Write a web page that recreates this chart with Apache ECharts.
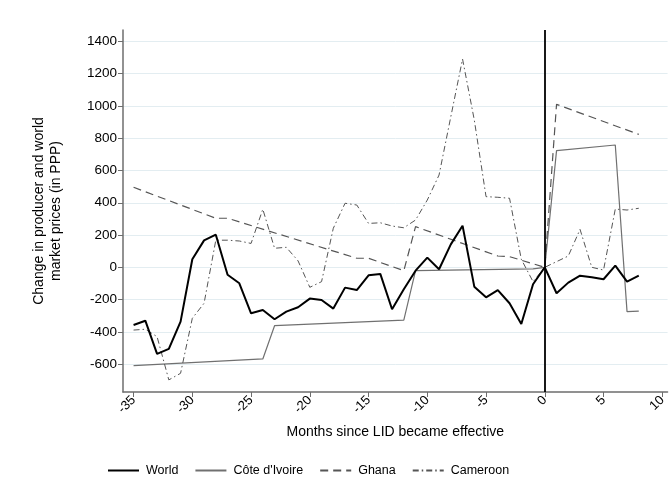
<!DOCTYPE html>
<html>
<head>
<meta charset="utf-8">
<script src="https://cdn.jsdelivr.net/npm/echarts@6/dist/echarts.min.js"></script>
<style>
  html, body { margin: 0; padding: 0; background: #fff; }
  #chart { width: 669px; height: 497px; }
</style>
</head>
<body>
<div id="chart"></div>
<script>
// months relative to the LID
const months = [-35, -34, -33, -32, -31, -30, -29, -28, -27, -26, -25, -24, -23, -22, -21, -20, -19, -18, -17, -16, -15, -14,
    -13, -12, -11, -10, -9, -8, -7, -6, -5, -4, -3, -2, -1, 0, 1, 2, 3, 4, 5, 6, 7, 8];

const world = [-358, -331, -537, -506, -337, 50, 167, 202, -46, -99, -285, -265, -322, -275, -248, -194, -203, -256, -126, -141, -50, -41,
    -260, -136, -21, 60, -12, 142, 258, -120, -186, -141, -223, -351, -105, 0, -161, -95, -52, -62, -74, 10, -89, -52];

const cameroon = [-389, -384, -430, -698, -657, -316, -223, 168, 168, 163, 148, 360, 118, 124, 40, -124, -89, 242, 397, 386, 272, 276,
    256, 245, 293, 417, 572, 933, 1291, 913, 438, 434, 428, 50, -89, 0, 35, 70, 235, 0, -17, 361, 355, 366];

// Côte d'Ivoire and Ghana only change slope at a few months
const civMonths = [-35, -24, -23, -12, -11, -1, 0, 1, 6, 7, 8];
const civ = [-610, -568, -362, -327, -20, -10, 0, 723, 758, -275, -272];

const ghanaMonths = [-35, -28, -27, -16, -15, -12, -11, -4, -3, 0, 1, 8];
const ghana = [496, 304, 304, 56, 56, -21, 252, 70, 66, 0, 1010, 824];

const xTicks = [-35, -30, -25, -20, -15, -10, -5, 0, 5, 10];
const yTicks = [-600, -400, -200, 0, 200, 400, 600, 800, 1000, 1200, 1400];

const pairs = (xs, ys) => xs.map((x, i) => [x, ys[i]]);

const FONT = '"Liberation Sans", Arial, sans-serif';

const chart = echarts.init(document.getElementById('chart'));

const option = {
    backgroundColor: '#fff',
    animation: false,
    textStyle: { fontFamily: FONT, color: '#000' },
    grid: { left: 123, right: 0, top: 30, bottom: 105, containLabel: false },
    legend: {
        left: 107,
        top: 464,
        padding: 0,
        itemWidth: 31,
        itemHeight: 14,
        itemGap: 16,
        itemStyle: { opacity: 0 },
        textStyle: { fontFamily: FONT, fontSize: 12.5, color: '#000', padding: [0, 0, 0, 2] },
        data: ['World', "Côte d'Ivoire", 'Ghana', 'Cameroon']
    },
    xAxis: {
        type: 'value',
        min: -35.9,
        max: 10.45,
        name: 'Months since LID became effective',
        nameLocation: 'middle',
        nameGap: 33,
        nameTextStyle: { fontSize: 14, color: '#000', fontFamily: FONT },
        axisLine: { onZero: false, lineStyle: { color: '#6e6e6e', width: 1.5 } },
        axisTick: { length: 5, lineStyle: { color: '#6e6e6e', width: 1 }, customValues: xTicks },
        axisLabel: { rotate: 45, fontSize: 13, color: '#000', margin: 6, customValues: xTicks },
        splitLine: { show: false }
    },
    yAxis: {
        type: 'value',
        min: -773,
        max: 1471,
        name: 'Change in producer and world\nmarket prices (in PPP)',
        nameLocation: 'middle',
        nameGap: 58,
        nameTextStyle: { fontSize: 14, lineHeight: 17, color: '#000', fontFamily: FONT },
        axisLine: { show: true, onZero: false, lineStyle: { color: '#6e6e6e', width: 1.5 } },
        axisTick: { show: true, length: 5, lineStyle: { color: '#6e6e6e', width: 1 }, customValues: yTicks },
        axisLabel: { fontSize: 13.5, color: '#000', margin: 6, customValues: yTicks, formatter: (v) => String(v) },
        splitLine: { show: true, lineStyle: { color: '#e3edf1', width: 1 } }
    },
    series: [
        {
            name: 'World',
            type: 'line',
            data: pairs(months, world),
            symbol: 'none',
            z: 5,
            lineStyle: { color: '#000', width: 2 },
            itemStyle: { color: '#000' },
            markLine: {
                silent: true,
                symbol: 'none',
                label: { show: false },
                lineStyle: { color: '#000', width: 1.8, type: 'solid' },
                data: [{ xAxis: 0 }]
            }
        },
        {
            name: "Côte d'Ivoire",
            type: 'line',
            data: pairs(civMonths, civ),
            symbol: 'none',
            z: 3,
            lineStyle: { color: '#707070', width: 1.2 },
            itemStyle: { color: '#707070' }
        },
        {
            name: 'Ghana',
            type: 'line',
            data: pairs(ghanaMonths, ghana),
            symbol: 'none',
            z: 3,
            lineStyle: { color: '#555', width: 1.2, type: [8, 5] },
            itemStyle: { color: '#555' }
        },
        {
            name: 'Cameroon',
            type: 'line',
            data: pairs(months, cameroon),
            symbol: 'none',
            z: 3,
            lineStyle: { color: '#555', width: 1, type: [6, 3, 1.5, 3] },
            itemStyle: { color: '#555' }
        }
    ]
};

chart.setOption(option);
</script>
</body>
</html>
